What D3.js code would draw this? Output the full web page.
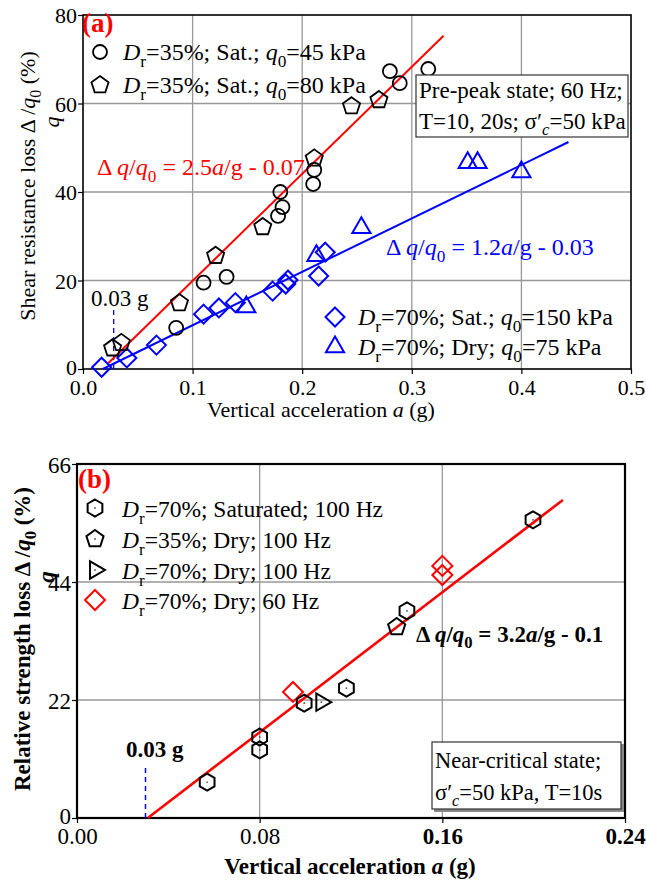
<!DOCTYPE html>
<html>
<head>
<meta charset="utf-8">
<script src="https://cdn.jsdelivr.net/npm/d3@7"></script>
<style>
  body { margin: 0; background: #fff; }
  svg { display: block; font-family: "Liberation Serif", "Times New Roman", serif; }
  .tick text { font-family: "Liberation Serif", "Times New Roman", serif; }
</style>
</head>
<body>
<svg id="chart" width="646" height="884"></svg>
<script>
// ---- panel (a) data: [a (g), loss (%)] ----
const a_circle = [[0.085, 9.3], [0.110, 19.5], [0.131, 20.8], [0.178, 34.6], [0.182, 36.6], [0.180, 40.0],
  [0.210, 41.8], [0.211, 45.0], [0.280, 67.3], [0.289, 64.6], [0.315, 67.8]];
const a_pentagon = [[0.027, 4.7], [0.035, 5.9], [0.088, 14.9], [0.121, 25.6], [0.164, 32.1],
  [0.211, 47.6], [0.245, 59.4], [0.270, 60.8]];
const a_diamond = [[0.017, 0.4], [0.040, 2.5], [0.067, 5.4], [0.110, 12.4], [0.124, 13.8], [0.139, 15.0],
  [0.173, 17.6], [0.185, 19.2], [0.187, 20.1], [0.215, 21.0], [0.221, 26.4]];
const a_triangle = [[0.149, 14.0], [0.213, 25.6], [0.254, 31.9], [0.351, 46.6], [0.360, 46.6], [0.400, 44.5]];
const a_fitRed = [[0.023, 1.3], [0.329, 75.3]];
const a_fitBlue = [[0.018, 0], [0.443, 51.3]];
const a_cutoff = [[0.028, 0], [0.028, 14]];
const a_xTicks = [0, 0.1, 0.2, 0.3, 0.4, 0.5];
const a_yTicks = [0, 20, 40, 60, 80];

// ---- panel (b) data ----
const b_hexagon = [[0.057, 6.7], [0.080, 12.7], [0.080, 15.1], [0.0995, 21.4], [0.118, 24.2], [0.1445, 38.6], [0.1997, 55.6]];
const b_pentagon = [[0.140, 35.6]];
const b_triangle = [[0.107, 21.6]];
const b_diamond = [[0.0946, 23.5], [0.160, 45.3], [0.160, 47.0]];
const b_fit = [[0.031, 0], [0.2128, 59.3]];
const b_cutoff = [[0.03, 0], [0.03, 9.5]];
const b_xTicks = [0, 0.08, 0.16, 0.24];
const b_yTicks = [0, 22, 44, 66];

const svg = d3.select("#chart");
const BLUE = "#0000ff", RED = "#ff0000";

// regular polygon path around 0,0
function polygon(n, r, rot) {
  const pts = d3.range(n).map(i => {
    const ang = rot + i * 2 * Math.PI / n;
    return [r * Math.sin(ang), -r * Math.cos(ang)];
  });
  return "M" + pts.map(p => p.join(",")).join("L") + "Z";
}
const shapes = {
  circle: d3.symbol().type(d3.symbolCircle).size(Math.PI * 49)(),
  pentagon: polygon(5, 9, 0),
  diamond: polygon(4, 9.5, 0),
  triangle: polygon(3, 10.5, 0),
  hexagon: polygon(6, 8.5, 0),
  triRight: polygon(3, 10, Math.PI / 2),
  diamondB: polygon(4, 10, 0)
};

function drawMarks(g, data, x, y, shape, color, sw, dot) {
  const m = g.append("g").selectAll("g").data(data).join("g")
    .attr("transform", d => `translate(${x(d[0])},${y(d[1])})`);
  m.append("path").attr("d", shapes[shape]).attr("fill", "none")
    .attr("stroke", color).attr("stroke-width", sw);
  if (dot) m.append("circle").attr("r", 0.9).attr("fill", "#555");
}

// rich text with italic and subscript parts
function rich(g, x, y, fs, parts, attrs) {
  const t = g.append("text").attr("x", x).attr("y", y).attr("font-size", fs);
  Object.entries(attrs || {}).forEach(([k, v]) => t.attr(k, v));
  let shift = 0;
  parts.forEach(p => {
    const s = t.append("tspan").text(p.t);
    if (p.i) s.attr("font-style", "italic");
    const want = p.sub ? fs * 0.28 : 0;
    if (want !== shift) { s.attr("dy", want - shift); shift = want; }
    if (p.sub) s.attr("font-size", fs * 0.72);
  });
  return t;
}

function panel(opt) {
  const g = svg.append("g");
  const x = opt.x, y = opt.y;
  const [x0, x1] = x.range(), [y0, y1] = y.range();
  // grid
  g.append("g").selectAll("line").data(opt.xTicks.slice(1, -1)).join("line")
    .attr("x1", d => x(d)).attr("x2", d => x(d)).attr("y1", y0).attr("y2", y1)
    .attr("stroke", "#999").attr("stroke-width", 1.3);
  g.append("g").selectAll("line").data(opt.yTicks.slice(1, -1)).join("line")
    .attr("y1", d => y(d)).attr("y2", d => y(d)).attr("x1", x0).attr("x2", x1)
    .attr("stroke", "#999").attr("stroke-width", 1.3);
  // axes
  const ax = g.append("g").attr("transform", `translate(0,${y0})`)
    .call(d3.axisBottom(x).tickValues(opt.xTicks).tickFormat(opt.xFmt).tickSize(5).tickPadding(5));
  const ay = g.append("g").attr("transform", `translate(${x0},0)`)
    .call(d3.axisLeft(y).tickValues(opt.yTicks).tickFormat(d3.format("d")).tickSize(5).tickPadding(1));
  [ax, ay].forEach(a => {
    a.select(".domain").remove();
    a.selectAll(".tick line").attr("stroke", "#000").attr("stroke-width", 1.2);
    a.selectAll(".tick text").attr("font-size", opt.tickFs).attr("fill", "#000");
  });
  ay.selectAll(".tick text").attr("dy", d => d === 0 ? "0.25em" : "0.35em");
  g.append("rect").attr("x", x0).attr("y", y1).attr("width", x1 - x0).attr("height", y0 - y1)
    .attr("fill", "none").attr("stroke", "#000").attr("stroke-width", opt.frameW);
  return { g, ax, ay };
}

// ================= panel (a) =================
const xA = d3.scaleLinear().domain([0, 0.5]).range([83, 631]);
const yA = d3.scaleLinear().domain([0, 80]).range([369, 15]);
const pA = panel({ x: xA, y: yA, xTicks: a_xTicks, yTicks: a_yTicks, xFmt: d3.format(".1f"), tickFs: 22, frameW: 1.6 });
const gA = pA.g;
const line = (x, y) => d3.line().x(d => x(d[0])).y(d => y(d[1]));

gA.append("path").datum(a_cutoff).attr("d", line(xA, yA)).attr("stroke", BLUE).attr("stroke-width", 1.3)
  .attr("stroke-dasharray", "5,4").attr("fill", "none");
gA.append("path").datum(a_fitRed).attr("d", line(xA, yA)).attr("stroke", RED).attr("stroke-width", 2).attr("fill", "none");
gA.append("path").datum(a_fitBlue).attr("d", line(xA, yA)).attr("stroke", BLUE).attr("stroke-width", 2).attr("fill", "none");

drawMarks(gA, a_diamond, xA, yA, "diamond", BLUE, 2);
drawMarks(gA, a_triangle, xA, yA, "triangle", BLUE, 2);
drawMarks(gA, a_circle, xA, yA, "circle", "#000", 1.8);
drawMarks(gA, a_pentagon, xA, yA, "pentagon", "#000", 1.8);

gA.append("text").attr("x", 82).attr("y", 32).attr("font-size", 27).attr("font-weight", "bold")
  .attr("fill", RED).text("(a)");

// legend (a)
const legA = [
  { shape: "circle", color: "#000", x: 100, y: 52, parts: [{ t: "D", i: 1 }, { t: "r", sub: 1 }, { t: "=35%; Sat.; " }, { t: "q", i: 1 }, { t: "0", sub: 1 }, { t: "=45 kPa" }] },
  { shape: "pentagon", color: "#000", x: 100, y: 85, parts: [{ t: "D", i: 1 }, { t: "r", sub: 1 }, { t: "=35%; Sat.; " }, { t: "q", i: 1 }, { t: "0", sub: 1 }, { t: "=80 kPa" }] },
  { shape: "diamond", color: BLUE, x: 335, y: 317, parts: [{ t: "D", i: 1 }, { t: "r", sub: 1 }, { t: "=70%; Sat.; " }, { t: "q", i: 1 }, { t: "0", sub: 1 }, { t: "=150 kPa" }] },
  { shape: "triangle", color: BLUE, x: 335, y: 347, parts: [{ t: "D", i: 1 }, { t: "r", sub: 1 }, { t: "=70%; Dry; " }, { t: "q", i: 1 }, { t: "0", sub: 1 }, { t: "=75 kPa" }] }
];
legA.forEach(l => {
  gA.append("path").attr("d", shapes[l.shape]).attr("transform", `translate(${l.x},${l.y})`)
    .attr("fill", "none").attr("stroke", l.color).attr("stroke-width", l.color === "#000" ? 1.8 : 2);
  rich(gA, l.x + 23, l.y + 8, 24, l.parts);
});

// info box (a)
gA.append("rect").attr("x", 416).attr("y", 75).attr("width", 212).attr("height", 62)
  .attr("fill", "#fff").attr("stroke", "#333").attr("stroke-width", 1.2);
rich(gA, 419, 98, 23, [{ t: "Pre-peak state; 60 Hz;" }]);
rich(gA, 419, 129, 23, [{ t: "T=10, 20s; σ′" }, { t: "c", i: 1, sub: 1 }, { t: "=50 kPa" }]);

// equations (a)
const eqParts = (k, b) => [{ t: "Δ " }, { t: "q", i: 1 }, { t: "/" }, { t: "q", i: 1 }, { t: "0", sub: 1 },
  { t: ` = ${k}` }, { t: "a", i: 1 }, { t: `/g - ${b}` }];
rich(gA, 97, 175, 24, eqParts("2.5", "0.07"), { fill: RED });
rich(gA, 386, 255, 24, eqParts("1.2", "0.03"), { fill: BLUE });

gA.append("text").attr("x", 91).attr("y", 306).attr("font-size", 23).text("0.03 g");

// axis titles (a)
rich(gA, 321, 417, 22, [{ t: "Vertical acceleration " }, { t: "a", i: 1 }, { t: " (g)" }], { "text-anchor": "middle" });
rich(gA, 0, 0, 22, [{ t: "Shear resistance loss Δ /" }, { t: "q", i: 1 }, { t: "0", sub: 1 }, { t: " (%)" }],
  { "text-anchor": "middle", transform: "translate(35,186) rotate(-90)" });
gA.append("text").attr("transform", "translate(59,122) rotate(-90)").attr("font-size", 22)
  .attr("font-style", "italic").attr("text-anchor", "middle").text("q");

// ================= panel (b) =================
const xB = d3.scaleLinear().domain([0, 0.24]).range([77, 625]);
const yB = d3.scaleLinear().domain([0, 66]).range([818, 464]);
const pB = panel({ x: xB, y: yB, xTicks: b_xTicks, yTicks: b_yTicks, xFmt: d3.format(".2f"), tickFs: 23, frameW: 2.2 });
const gB = pB.g;
pB.ax.selectAll(".tick text").attr("font-weight", d => d >= 0.16 ? "bold" : "normal");

gB.append("path").datum(b_cutoff).attr("d", line(xB, yB)).attr("stroke", BLUE).attr("stroke-width", 1.5)
  .attr("stroke-dasharray", "5,4").attr("fill", "none");
gB.append("path").datum(b_fit).attr("d", line(xB, yB)).attr("stroke", RED).attr("stroke-width", 2.6).attr("fill", "none");

drawMarks(gB, b_diamond, xB, yB, "diamondB", RED, 2);
drawMarks(gB, b_hexagon, xB, yB, "hexagon", "#000", 2, true);
drawMarks(gB, b_pentagon, xB, yB, "pentagon", "#000", 2, true);
drawMarks(gB, b_triangle, xB, yB, "triRight", "#000", 2, true);

gB.append("text").attr("x", 78).attr("y", 488).attr("font-size", 27).attr("font-weight", "bold")
  .attr("fill", RED).text("(b)");

const legB = [
  { shape: "hexagon", color: "#000", y: 508, rest: "=70%; Saturated; 100 Hz" },
  { shape: "pentagon", color: "#000", y: 539, rest: "=35%; Dry; 100 Hz" },
  { shape: "triRight", color: "#000", y: 570, rest: "=70%; Dry; 100 Hz" },
  { shape: "diamondB", color: RED, y: 600, rest: "=70%; Dry; 60 Hz" }
];
legB.forEach(l => {
  const m = gB.append("g").attr("transform", `translate(95,${l.y})`);
  m.append("path").attr("d", shapes[l.shape]).attr("fill", "none").attr("stroke", l.color).attr("stroke-width", 2);
  if (l.color === "#000") m.append("circle").attr("r", 0.9).attr("fill", "#555");
  rich(gB, 122, l.y + 9, 23.5, [{ t: "D", i: 1 }, { t: "r", sub: 1 }, { t: l.rest }]);
});

rich(gB, 416, 642, 23, eqParts("3.2", "0.1"), { "font-weight": "bold" });
gB.append("text").attr("x", 126).attr("y", 757).attr("font-size", 23).attr("font-weight", "bold").text("0.03 g");

// info box (b)
gB.append("rect").attr("x", 434).attr("y", 744).attr("width", 190).attr("height", 68).attr("fill", "#888");
gB.append("rect").attr("x", 432).attr("y", 742).attr("width", 189).attr("height", 67)
  .attr("fill", "#fff").attr("stroke", "#333").attr("stroke-width", 1.2);
rich(gB, 435, 768, 22.5, [{ t: "Near-critical state;" }]);
rich(gB, 435, 800, 22.5, [{ t: "σ′" }, { t: "c", i: 1, sub: 1 }, { t: "=50 kPa, T=10s" }]);

// axis titles (b)
rich(gB, 350, 874, 23, [{ t: "Vertical acceleration " }, { t: "a", i: 1 }, { t: " (g)" }],
  { "text-anchor": "middle", "font-weight": "bold" });
rich(gB, 0, 0, 23, [{ t: "Relative strength loss Δ /" }, { t: "q", i: 1 }, { t: "0", sub: 1 }, { t: " (%)" }],
  { "text-anchor": "middle", "font-weight": "bold", transform: "translate(30,639) rotate(-90)" });
gB.append("text").attr("transform", "translate(54,577) rotate(-90)").attr("font-size", 23)
  .attr("font-style", "italic").attr("font-weight", "bold").attr("text-anchor", "middle").text("q");
</script>
</body>
</html>
